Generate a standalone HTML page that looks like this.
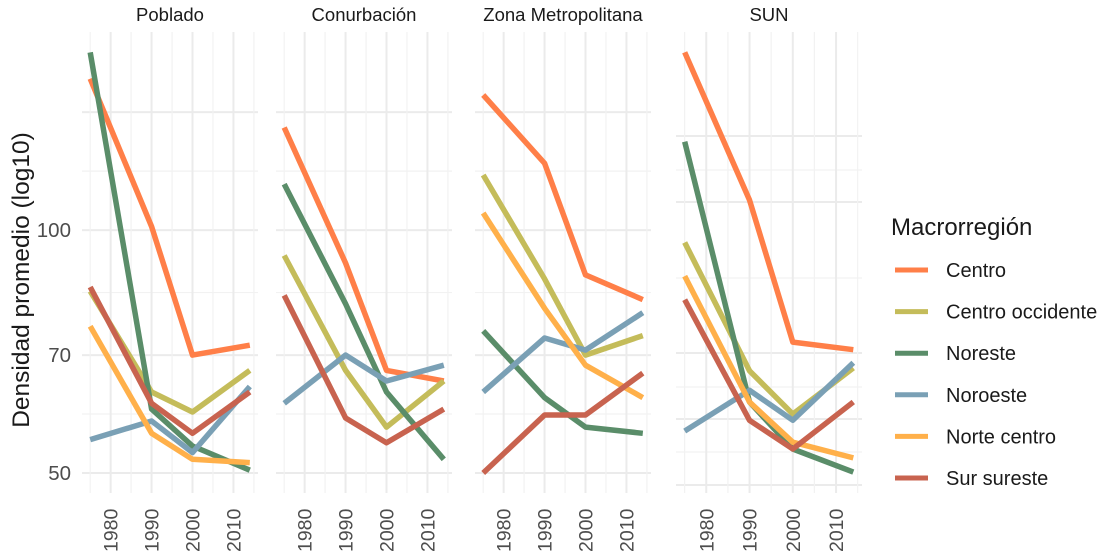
<!DOCTYPE html>
<html><head><meta charset="utf-8">
<style>
html,body{margin:0;padding:0;background:#fff;}
svg{display:block;font-family:"Liberation Sans","DejaVu Sans",sans-serif;}
</style></head>
<body>
<svg id="chart" width="1101" height="555" viewBox="0 0 1101 555">
<g id="grid"></g>
<g id="series"></g>
<g id="axes"></g>
<text x="29" y="280" transform="rotate(-90 29 280)" text-anchor="middle" font-size="24.5" fill="#1a1a1a">Densidad promedio (log10)</text>
<g id="legend">
<text x="891" y="235" font-size="24" fill="#1a1a1a">Macrorregión</text>
</g>
</svg>
<script>
const NS="http://www.w3.org/2000/svg";
const years=[1975,1990,2000,2014];
const panels=["Poblado","Conurbación","Zona Metropolitana","SUN"];
const regions=["Centro","Centro occidente","Noreste","Noroeste","Norte centro","Sur sureste"];
const colors=["#FF7F48","#C4BC5A","#5A8D69","#7AA0B5","#FFB04A","#C8634F"];
const poblado=[[154,101,70,72],[84,63,59.5,67],[166,60,54,50.4],[55,58,53,64],[76,56,52,51.5],[85,61,56,63]];
const conurbacion=[[134,91,67,65],[93,67,57,65],[114,81,63,52],[61,70,65,68],null,[83,58.5,54.5,60]];
const zonaMetro=[[147,121,88,82],[117,87,70,74],[75,62,57,56],[63,73.5,71,79],[105,80,68,62],[50,59,59,66.5]];
const sun=[[160,105,70,68.5],[93,64.5,57,65],[124,59,51.6,48.3],[54.3,61,56,66],[84.5,59,52.6,50.3],[79,56,51.6,59]];
const panelData=[poblado,conurbacion,zonaMetro,sun];
const yTickVals=[50,70,100];
const yMajor=[50,70,100,140];
const xTickYears=[1980,1990,2000,2010];

const panelLeft=[82,276,475,676];
const panelWidth=[176,176,176,186];
const plotTop=32, plotBottom=493;
const xDom=[1973,2016];
function xScale(p,yr){return panelLeft[p]+(yr-xDom[0])/(xDom[1]-xDom[0])*panelWidth[p];}
function yScale(p,v){
  if(p===3) return 460-807*Math.log10(v/50);
  return 473-807*Math.log10(v/50);
}
function mk(tag,attrs,parent){const e=document.createElementNS(NS,tag);for(const k in attrs)e.setAttribute(k,attrs[k]);parent.appendChild(e);return e;}
const grid=document.getElementById('grid'), series=document.getElementById('series'), axes=document.getElementById('axes'), legend=document.getElementById('legend');

const sunGrid=[[136,1],[170,0],[202,1],[278,0],[353,1],[387,0],[419,1],[452,0],[485,1]];
for(let p=0;p<4;p++){
  const x0=panelLeft[p], x1=panelLeft[p]+panelWidth[p];
  let hl=[];
  if(p<3){
    for(let i=0;i<yMajor.length;i++){
      hl.push([yScale(p,yMajor[i]),1]);
      if(i<yMajor.length-1) hl.push([yScale(p,Math.sqrt(yMajor[i]*yMajor[i+1])),0]);
    }
  } else hl=sunGrid;
  hl.forEach(h=>{
    const l=mk('line',{x1:x0,x2:x1,y1:h[0],y2:h[0],stroke:h[1]?'#ebebeb':'#f2f2f2','stroke-width':h[1]?2:1.2},grid);
    
    
  });
  for(let yr=1975;yr<=2015;yr+=5){
    const major=yr%10===0;
    const x=xScale(p,yr);
    const l=mk('line',{x1:x,x2:x,y1:plotTop,y2:plotBottom,stroke:major?'#ebebeb':'#f2f2f2','stroke-width':major?2:1.2},grid);
    
    
  }
  const t=mk('text',{x:x0+panelWidth[p]/2,y:21,'text-anchor':'middle','font-size':18.5,fill:'#1a1a1a'},axes);
  t.textContent=panels[p];
  
  
  xTickYears.forEach(yr=>{
    const x=xScale(p,yr)+7;
    const tx=mk('text',{x:x,y:552,transform:`rotate(-90 ${x} 552)`,'font-size':19.5,fill:'#4d4d4d'},axes);
    tx.textContent=yr;
    
    
  });
  const d=panelData[p];
  d.forEach((vals,ri)=>{
    if(!vals) return;
    const pts=vals.map((v,i)=>xScale(p,years[i]).toFixed(1)+','+yScale(p,v).toFixed(1)).join(' ');
    const pl=mk('polyline',{points:pts,fill:'none',stroke:colors[ri],'stroke-width':5.5,'stroke-linejoin':'round'},series);
    
    
  });
}
yTickVals.forEach(v=>{
  const t=mk('text',{x:71,y:yScale(0,v)+7,'text-anchor':'end','font-size':20.5,fill:'#4d4d4d'},axes);
  t.textContent=v;
  
  
});
regions.forEach((r,i)=>{
  const y=270+i*41.6;
  const l=mk('line',{x1:895,x2:928,y1:y,y2:y,stroke:colors[i],'stroke-width':5},legend);
  
  
  const t=mk('text',{x:946,y:y+7,'font-size':20,fill:'#1a1a1a'},legend);
  t.textContent=r;
  
  
});
</script>
</body></html>
